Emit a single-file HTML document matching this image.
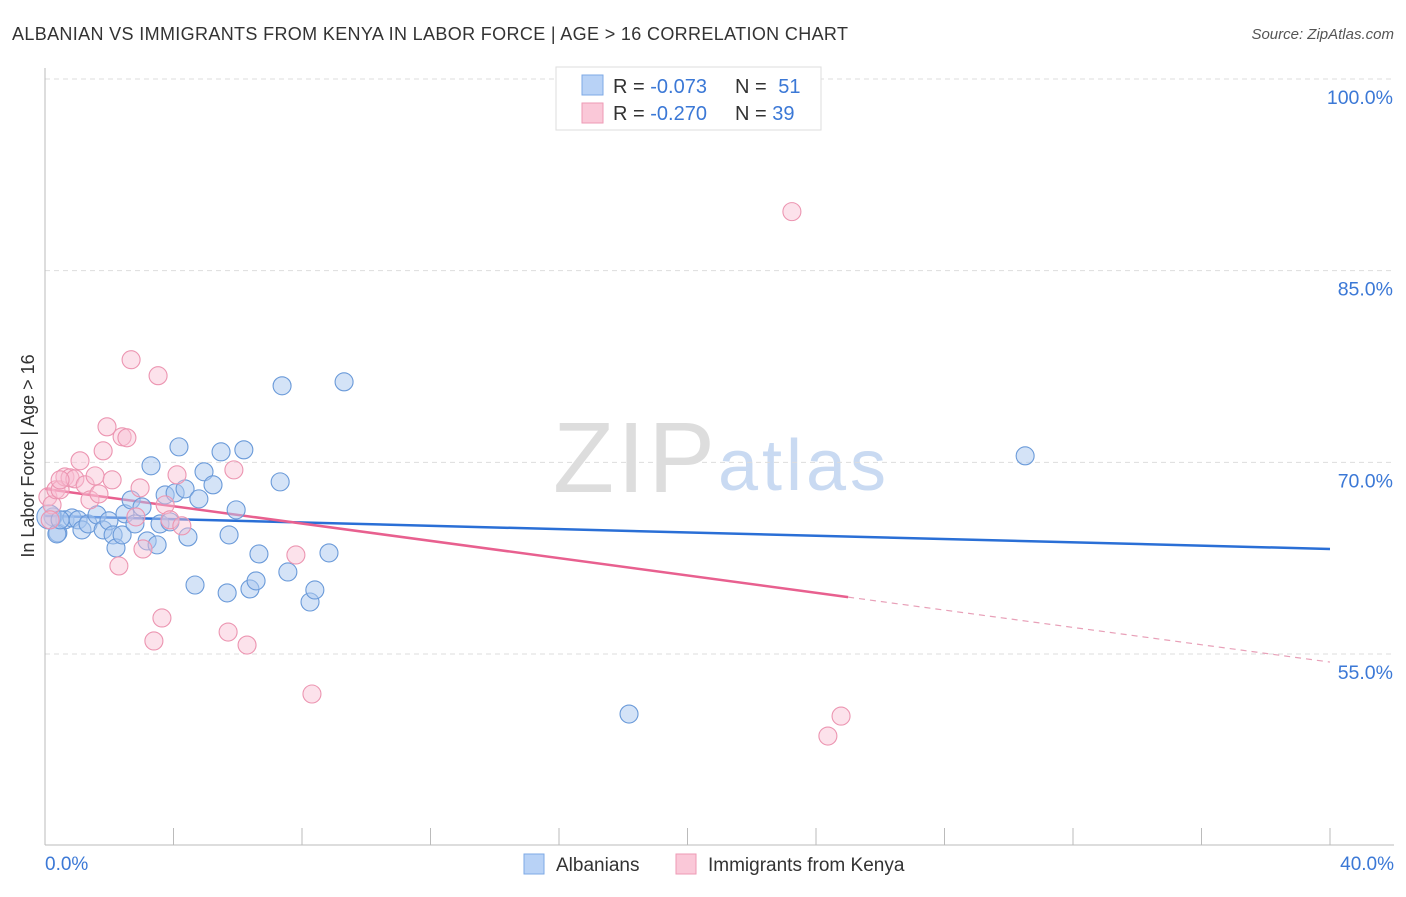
<!DOCTYPE html>
<html><head><meta charset="utf-8"><style>
body{margin:0;background:#fff;font-family:"Liberation Sans",sans-serif;}
svg text{font-family:"Liberation Sans",sans-serif;}
</style></head><body>
<svg id="chart" width="1406" height="892" viewBox="0 0 1406 892">
<text x="12" y="40" font-size="18" fill="#333" letter-spacing="0.35">ALBANIAN VS IMMIGRANTS FROM KENYA IN LABOR FORCE | AGE &gt; 16 CORRELATION CHART</text>
<text x="1394" y="39" font-size="15" fill="#555" font-style="italic" text-anchor="end">Source: ZipAtlas.com</text>
<text x="34" y="456" font-size="18" fill="#333" text-anchor="middle" transform="rotate(-90 34 456)">In Labor Force | Age &gt; 16</text>
<g>
<text x="553" y="492" font-size="100" fill="#ddd" font-family="Liberation Serif, serif" textLength="162">ZIP</text>
<text x="718" y="490" font-size="72" fill="#c9daf2" textLength="168">atlas</text>
</g>
<g id="grid"></g><g id="axes"></g><g id="trends"></g><g id="points"></g>
<g>
<rect x="556" y="67" width="265" height="63" fill="#fff" stroke="#ddd"/>
<rect x="582" y="75" width="21" height="20" fill="#b8d2f6" stroke="#7ea9e6"/>
<rect x="582" y="103" width="21" height="20" fill="#fac8d8" stroke="#ee9ab5"/>
<text x="613" y="93" font-size="20" fill="#333">R = <tspan fill="#3b78d6">-0.073</tspan></text>
<text x="735" y="93" font-size="20" fill="#333">N = <tspan fill="#3b78d6" dx="6">51</tspan></text>
<text x="613" y="120" font-size="20" fill="#333">R = <tspan fill="#3b78d6">-0.270</tspan></text>
<text x="735" y="120" font-size="20" fill="#333">N = <tspan fill="#3b78d6">39</tspan></text>
</g>
<g>
<rect x="524" y="854" width="20" height="20" fill="#b8d2f6" stroke="#7ea9e6"/>
<text x="556" y="871" font-size="19" fill="#333">Albanians</text>
<rect x="676" y="854" width="20" height="20" fill="#fac8d8" stroke="#ee9ab5"/>
<text x="708" y="871" font-size="19" fill="#333">Immigrants from Kenya</text>
</g>
</svg>
<script>
const yTicks=[55,70,85,100];
const yTickLabels=["55.0%","70.0%","85.0%","100.0%"];
const xTickLabels=["0.0%","40.0%"];
const blueX=[0.25,0.40,0.62,0.84,1.03,1.15,1.34,1.62,1.81,1.99,2.12,2.21,2.40,2.49,2.68,2.80,3.02,3.18,3.30,3.49,3.58,3.74,3.89,4.05,4.17,4.36,4.45,4.67,4.79,4.95,5.23,5.48,5.67,5.73,5.95,6.19,6.38,6.57,6.66,7.32,7.38,7.56,8.25,8.40,8.84,9.31,18.18,30.51,0.12,0.37,0.47];
const blueY=[65.73,64.48,65.50,65.65,65.50,64.71,65.18,65.89,64.71,65.42,64.32,63.30,64.32,65.97,67.06,65.18,66.51,63.85,69.73,63.54,65.18,67.45,65.34,67.61,71.21,67.92,64.16,60.40,67.14,69.26,68.24,70.82,59.78,64.32,66.28,70.98,60.09,60.72,62.83,68.47,75.99,61.42,59.07,60.01,62.91,76.30,50.30,70.51,65.73,64.40,65.50];
const pinkX=[0.09,0.22,0.34,0.47,0.62,0.78,0.93,1.09,1.25,1.40,1.56,1.68,1.81,1.93,2.09,2.30,2.40,2.55,2.68,2.83,2.96,3.05,3.52,3.64,3.74,3.89,4.11,4.26,3.39,5.70,5.88,6.29,7.81,8.31,23.25,24.37,24.78,0.47,0.16];
const pinkY=[67.30,66.67,67.85,67.85,68.86,68.79,68.71,70.12,68.24,67.06,68.94,67.53,70.90,72.78,68.63,61.89,72.00,71.92,78.03,65.73,68.00,63.22,76.78,57.82,66.67,65.50,69.02,65.03,56.02,56.72,69.41,55.70,62.75,51.87,89.62,48.58,50.14,68.63,65.50];
const blueTrend=[65.81,63.22];
const pinkTrend=[67.92,54.37];
const pinkSolidEnd=25.0;

const NS="http://www.w3.org/2000/svg";
const X0=45,X1=1330;
function xs(v){return X0+(v/40)*(X1-X0);}
function ys(v){return 654-(v-55)*(654-79)/45;}
function mk(tag,attrs,parent){const e=document.createElementNS(NS,tag);for(const k in attrs)e.setAttribute(k,attrs[k]);document.getElementById(parent).appendChild(e);return e;}

yTicks.forEach((t,i)=>{
  const g=mk('line',{x1:45,x2:1394,y1:ys(t),y2:ys(t),stroke:'#ddd','stroke-dasharray':'5,4'},'grid');
  
  
  const l=mk('text',{x:1393,y:ys(t)+25,'font-size':19.5,fill:'#3b78d6','text-anchor':'end'},'grid');
  l.textContent=yTickLabels[i];
  
  
});
let ax=mk('line',{x1:45,x2:45,y1:68,y2:845,stroke:'#bbb'},'axes');


ax=mk('line',{x1:45,x2:1394,y1:845,y2:845,stroke:'#bbb'},'axes');


for(let i=1;i<=10;i++){
  const t=mk('line',{x1:xs(i*4),x2:xs(i*4),y1:828,y2:845,stroke:'#bbb'},'axes');
  
  
}
[[0,'start',45],[40,'end',1394]].forEach((d,i)=>{
  const l=mk('text',{x:d[2],y:870,'font-size':19,fill:'#3b78d6','text-anchor':d[1]},'axes');
  l.textContent=xTickLabels[i];
  
  
});
let tl=mk('line',{x1:xs(0),y1:ys(blueTrend[0]),x2:xs(40),y2:ys(blueTrend[1]),stroke:'#2a6fd6','stroke-width':2.5},'trends');


const pm=(pinkTrend[1]-pinkTrend[0])/40;
tl=mk('line',{x1:xs(0),y1:ys(pinkTrend[0]),x2:xs(pinkSolidEnd),y2:ys(pinkTrend[0]+pm*pinkSolidEnd),stroke:'#e8608f','stroke-width':2.5},'trends');


tl=mk('line',{x1:xs(pinkSolidEnd),y1:ys(pinkTrend[0]+pm*pinkSolidEnd),x2:xs(40),y2:ys(pinkTrend[1]),stroke:'#e8a0b8','stroke-width':1.2,'stroke-dasharray':'6,5'},'trends');


blueX.forEach((v,i)=>{
  const c=mk('circle',{cx:xs(v),cy:ys(blueY[i]),r:(i===48?12:9),fill:'rgba(170,200,240,0.5)',stroke:'#6a9ad9','stroke-width':1.1},'points');
  
  
});
pinkX.forEach((v,i)=>{
  const c=mk('circle',{cx:xs(v),cy:ys(pinkY[i]),r:9,fill:'rgba(248,190,210,0.45)',stroke:'#ec95b1','stroke-width':1.1},'points');
  
  
});
</script>
</body></html>
